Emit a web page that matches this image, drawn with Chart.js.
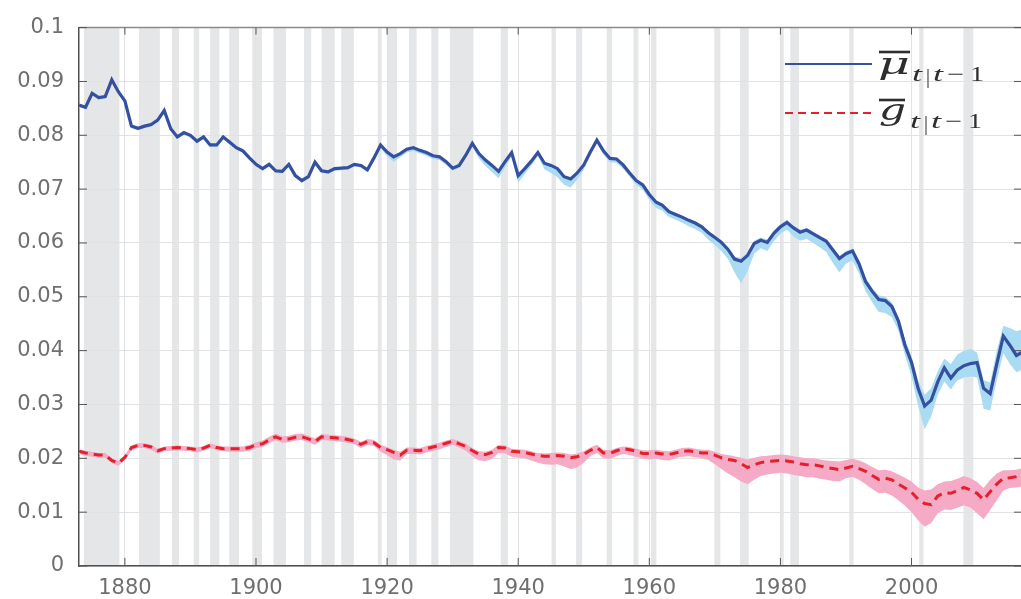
<!DOCTYPE html>
<html>
<head>
<meta charset="utf-8">
<script src="https://cdn.jsdelivr.net/npm/chart.js@4.4.1/dist/chart.umd.min.js"></script>
<style>
  html, body { margin: 0; padding: 0; background: #fff; }
  #wrap { width: 1021px; height: 599px; }
</style>
</head>
<body>
<div id="wrap"><canvas id="grafico" width="1021" height="599"></canvas></div>
<script>
// datos (anual)
var anios = [
  1873,1874,1875,1876,1877,1878,1879,
  1880,1881,1882,1883,1884,1885,1886,1887,1888,1889,
  1890,1891,1892,1893,1894,1895,1896,1897,1898,1899,
  1900,1901,1902,1903,1904,1905,1906,1907,1908,1909,
  1910,1911,1912,1913,1914,1915,1916,1917,1918,1919,
  1920,1921,1922,1923,1924,1925,1926,1927,1928,1929,
  1930,1931,1932,1933,1934,1935,1936,1937,1938,1939,
  1940,1941,1942,1943,1944,1945,1946,1947,1948,1949,
  1950,1951,1952,1953,1954,1955,1956,1957,1958,1959,
  1960,1961,1962,1963,1964,1965,1966,1967,1968,1969,
  1970,1971,1972,1973,1974,1975,1976,1977,1978,1979,
  1980,1981,1982,1983,1984,1985,1986,1987,1988,1989,
  1990,1991,1992,1993,1994,1995,1996,1997,1998,1999,
  2000,2001,2002,2003,2004,2005,2006,2007,2008,2009,
  2010,2011,2012,2013,2014,2015,2016,2017
];

var mu = [
  .0856,.0852,.0878,.0870,.0872,.0903,.0881,
  .0864,.0817,.0813,.0817,.0820,.0828,.0846,.0812,.0797,.0805,
  .0800,.0789,.0797,.0782,.0782,.0797,.0787,.0777,.0771,.0758,
  .0746,.0738,.0746,.0734,.0733,.0746,.0725,.0716,.0723,.0750,
  .0734,.0732,.0738,.0739,.0740,.0746,.0744,.0736,.0758,.0782,
  .0769,.0760,.0766,.0774,.0777,.0772,.0768,.0762,.0760,.0751,
  .0739,.0744,.0763,.0785,.0766,.0754,.0744,.0733,.0751,.0768,
  .0725,.0738,.0752,.0768,.0748,.0744,.0738,.0723,.0719,.0730,
  .0745,.0769,.0791,.0771,.0757,.0756,.0745,.0730,.0716,.0708,
  .0690,.0676,.0670,.0658,.0653,.0648,.0642,.0637,.0630,.0619,
  .0610,.0601,.0588,.0570,.0566,.0577,.0599,.0605,.0601,.0618,
  .0630,.0638,.0628,.0620,.0624,.0617,.0610,.0603,.0587,.0571,
  .0580,.0585,.0561,.0528,.0510,.0495,.0493,.0482,.0455,.0410,
  .0378,.0330,.0297,.0308,.0342,.0368,.0349,.0364,.0372,.0376,
  .0378,.0330,.0320,.0375,.0427,.0410,.0391,.0398
];

var muBajo = [
  .0852,.0848,.0874,.0866,.0868,.0899,.0877,
  .0860,.0813,.0809,.0813,.0816,.0824,.0842,.0808,.0793,.0801,
  .0796,.0785,.0793,.0778,.0778,.0793,.0783,.0773,.0767,.0754,
  .0742,.0734,.0742,.0730,.0729,.0742,.0721,.0712,.0719,.0746,
  .0730,.0728,.0734,.0735,.0736,.0742,.0740,.0731,.0753,.0776,
  .0761,.0751,.0759,.0768,.0771,.0766,.0762,.0756,.0754,.0745,
  .0734,.0739,.0758,.0779,.0757,.0743,.0732,.0720,.0741,.0760,
  .0712,.0728,.0744,.0761,.0737,.0730,.0722,.0708,.0703,.0718,
  .0736,.0762,.0785,.0764,.0750,.0749,.0738,.0723,.0708,.0699,
  .0680,.0665,.0660,.0648,.0643,.0638,.0631,.0626,.0619,.0606,
  .0596,.0585,.0570,.0545,.0525,.0548,.0580,.0590,.0585,.0603,
  .0617,.0625,.0612,.0604,.0608,.0600,.0592,.0583,.0563,.0545,
  .0562,.0568,.0543,.0510,.0490,.0472,.0470,.0462,.0437,.0392,
  .0352,.0298,.0254,.0278,.0318,.0342,.0328,.0345,.0350,.0352,
  .0350,.0292,.0289,.0345,.0395,.0375,.0360,.0365
];

var muAlto = [
  .0858,.0854,.0880,.0872,.0874,.0905,.0883,
  .0866,.0819,.0815,.0819,.0822,.0830,.0848,.0814,.0799,.0807,
  .0802,.0791,.0799,.0784,.0784,.0799,.0789,.0779,.0773,.0760,
  .0748,.0740,.0748,.0736,.0735,.0748,.0727,.0718,.0725,.0752,
  .0736,.0734,.0740,.0741,.0742,.0748,.0746,.0738,.0760,.0785,
  .0771,.0762,.0768,.0776,.0779,.0774,.0770,.0764,.0762,.0753,
  .0741,.0746,.0765,.0788,.0768,.0756,.0746,.0735,.0753,.0770,
  .0727,.0740,.0754,.0770,.0750,.0746,.0740,.0725,.0721,.0732,
  .0747,.0772,.0796,.0773,.0759,.0758,.0747,.0732,.0718,.0711,
  .0693,.0679,.0673,.0661,.0656,.0651,.0645,.0640,.0633,.0622,
  .0614,.0605,.0592,.0575,.0572,.0583,.0604,.0610,.0606,.0623,
  .0635,.0643,.0632,.0625,.0628,.0621,.0614,.0607,.0592,.0576,
  .0585,.0590,.0567,.0535,.0517,.0503,.0500,.0490,.0463,.0420,
  .0390,.0345,.0318,.0330,.0362,.0385,.0375,.0393,.0400,.0403,
  .0396,.0345,.0341,.0400,.0446,.0442,.0436,.0440
];

var g = [
  .0213,.0210,.0208,.0206,.0206,.0196,.0191,
  .0202,.0220,.0224,.0224,.0221,.0214,.0218,.0219,.0220,.0219,
  .0218,.0216,.0219,.0224,.0220,.0218,.0218,.0218,.0218,.0220,
  .0225,.0227,.0234,.0240,.0235,.0236,.0239,.0240,.0236,.0231,
  .0240,.0239,.0238,.0237,.0235,.0232,.0226,.0231,.0229,.0220,
  .0216,.0211,.0206,.0215,.0215,.0214,.0218,.0221,.0224,.0228,
  .0232,.0227,.0222,.0214,.0208,.0207,.0211,.0220,.0219,.0213,
  .0212,.0211,.0208,.0205,.0204,.0204,.0205,.0204,.0201,.0203,
  .0207,.0215,.0220,.0210,.0209,.0214,.0218,.0216,.0213,.0209,
  .0209,.0210,.0208,.0207,.0210,.0213,.0214,.0212,.0210,.0210,
  .0206,.0201,.0198,.0196,.0190,.0183,.0188,.0192,.0194,.0195,
  .0196,.0195,.0193,.0190,.0188,.0188,.0186,.0183,.0181,.0179,
  .0182,.0185,.0181,.0176,.0168,.0161,.0163,.0160,.0152,.0145,
  .0137,.0124,.0116,.0114,.0130,.0136,.0135,.0140,.0146,.0141,
  .0135,.0123,.0138,.0152,.0163,.0164,.0166,.0170
];

var gBajo = [
  .0208,.0205,.0203,.0201,.0201,.0191,.0186,
  .0197,.0215,.0219,.0219,.0216,.0209,.0213,.0214,.0215,.0214,
  .0213,.0211,.0214,.0219,.0215,.0213,.0212,.0212,.0212,.0214,
  .0219,.0221,.0228,.0234,.0229,.0230,.0233,.0234,.0230,.0225,
  .0234,.0233,.0232,.0231,.0229,.0226,.0219,.0225,.0223,.0212,
  .0206,.0198,.0196,.0208,.0208,.0207,.0211,.0214,.0217,.0221,
  .0225,.0220,.0214,.0204,.0196,.0195,.0199,.0210,.0209,.0203,
  .0201,.0200,.0196,.0192,.0189,.0188,.0189,.0185,.0180,.0183,
  .0192,.0204,.0210,.0200,.0199,.0204,.0208,.0206,.0203,.0199,
  .0198,.0199,.0197,.0196,.0200,.0203,.0204,.0202,.0200,.0197,
  .0189,.0180,.0172,.0165,.0157,.0152,.0160,.0167,.0170,.0172,
  .0173,.0172,.0169,.0167,.0165,.0165,.0162,.0160,.0158,.0157,
  .0163,.0166,.0160,.0152,.0143,.0135,.0136,.0131,.0122,.0112,
  .0100,.0085,.0073,.0080,.0098,.0105,.0104,.0108,.0113,.0108,
  .0098,.0087,.0104,.0122,.0140,.0145,.0146,.0148
];

var gAlto = [
  .0217,.0214,.0212,.0210,.0210,.0200,.0195,
  .0206,.0224,.0228,.0228,.0225,.0218,.0222,.0223,.0224,.0223,
  .0222,.0220,.0223,.0228,.0224,.0222,.0222,.0222,.0222,.0225,
  .0230,.0233,.0240,.0246,.0241,.0242,.0245,.0246,.0242,.0237,
  .0245,.0244,.0243,.0242,.0240,.0237,.0231,.0236,.0234,.0225,
  .0221,.0216,.0212,.0220,.0220,.0219,.0223,.0226,.0229,.0233,
  .0236,.0232,.0227,.0219,.0213,.0212,.0216,.0225,.0224,.0218,
  .0217,.0216,.0213,.0210,.0209,.0210,.0211,.0210,.0207,.0209,
  .0213,.0220,.0225,.0216,.0215,.0219,.0222,.0221,.0218,.0215,
  .0215,.0216,.0214,.0213,.0216,.0219,.0220,.0218,.0216,.0216,
  .0212,.0208,.0206,.0204,.0201,.0198,.0201,.0204,.0205,.0206,
  .0207,.0206,.0204,.0202,.0200,.0200,.0198,.0196,.0195,.0194,
  .0197,.0199,.0196,.0191,.0184,.0178,.0179,.0176,.0170,.0164,
  .0157,.0146,.0140,.0142,.0152,.0157,.0158,.0162,.0167,.0163,
  .0156,.0145,.0160,.0172,.0178,.0178,.0179,.0182
];

// recesiones (franjas grises)
var recInicio = [1873.75,1882.17,1887.17,1890.5,1893.0,1895.92,1899.42,1902.67,1907.33,1910.0,
  1913.0,1918.58,1920.0,1923.33,1926.75,1929.58,1937.33,1945.08,1948.83,1953.5,
  1957.58,1960.25,1969.92,1973.83,1980.0,1981.5,1990.5,2001.17,2007.92];
var recFin = [1879.17,1885.33,1888.25,1891.33,1894.42,1897.42,1900.92,1904.58,1908.42,1912.0,
  1914.92,1919.17,1921.5,1924.5,1927.83,1933.17,1938.42,1945.75,1949.75,1954.33,
  1958.33,1961.08,1970.83,1975.17,1980.5,1982.83,1991.17,2001.83,2009.42];

var ticksX = [1880, 1900, 1920, 1940, 1960, 1980, 2000];
var ticksY = [0, 0.01, 0.02, 0.03, 0.04, 0.05, 0.06, 0.07, 0.08, 0.09, 0.1];
var etiquetasY = ['0','0.01','0.02','0.03','0.04','0.05','0.06','0.07','0.08','0.09','0.1'];

function puntos(valores){
    return anios.map(function(a, i){ return {x: a, y: valores[i]}; });
}

var colorAzul = '#34509f';
var colorRojo = '#e4202a';
var colorTexto = '#2e2e2e';

// franjas de recesion, antes de la grilla
var pluginRecesiones = {
    id: 'recesiones',
    beforeDraw: function(chart){
        var ctx = chart.ctx, area = chart.chartArea, x = chart.scales.x;
        ctx.save();
        ctx.fillStyle = '#e5e6e8';
        for (var i = 0; i < recInicio.length; i++){
            var x0 = Math.max(x.getPixelForValue(recInicio[i]), area.left);
            var x1 = Math.min(x.getPixelForValue(recFin[i]), area.right);
            if (x1 > x0) ctx.fillRect(x0, area.top, x1 - x0, area.bottom - area.top);
        }
        ctx.restore();
    }
};

function glifo(ctx, txt, x, base, font, ancho){
    ctx.save();
    ctx.font = font;
    var w = ctx.measureText(txt).width;
    ctx.translate(x, base);
    ctx.scale(ancho / w, 1);
    ctx.fillText(txt, 0, 0);
    ctx.restore();
}

function subindice(ctx, x0, base){
    var it = 'italic 21px "Liberation Serif"';
    var rm = '21px "Liberation Serif"';
    glifo(ctx, 't', x0, base, it, 10);
    glifo(ctx, '|', x0 + 14, base + 2, rm, 4);
    glifo(ctx, 't', x0 + 21, base, it, 10);
    glifo(ctx, '\u2212', x0 + 35, base, rm, 17);
    glifo(ctx, '1', x0 + 58, base, rm, 14);
}

// marco, marcas de eje y leyenda
var pluginMarco = {
    id: 'marco',
    afterDraw: function(chart){
        var ctx = chart.ctx, a = chart.chartArea;
        var sx = chart.scales.x, sy = chart.scales.y;
        ctx.save();
        ctx.strokeStyle = '#8a8a8a';
        ctx.lineWidth = 1.5;
        ctx.beginPath();
        ctx.moveTo(a.left, a.top); ctx.lineTo(a.right, a.top);
        ctx.stroke();

        ctx.strokeStyle = '#555';
        ctx.lineWidth = 1;
        ctx.beginPath();
        ticksX.forEach(function(v){
            var px = sx.getPixelForValue(v);
            ctx.moveTo(px, a.bottom); ctx.lineTo(px, a.bottom - 8);
            ctx.moveTo(px, a.top); ctx.lineTo(px, a.top + 7);
        });
        ticksY.forEach(function(v){
            var py = sy.getPixelForValue(v);
            ctx.moveTo(a.left, py); ctx.lineTo(a.left + 8, py);
            ctx.moveTo(a.right, py); ctx.lineTo(a.right - 7, py);
        });
        ctx.stroke();

        // leyenda
        ctx.lineWidth = 2.2;
        ctx.strokeStyle = colorAzul;
        ctx.beginPath(); ctx.moveTo(785, 64); ctx.lineTo(872, 64); ctx.stroke();
        ctx.strokeStyle = colorRojo;
        ctx.setLineDash([8, 5]);
        ctx.beginPath(); ctx.moveTo(785, 113); ctx.lineTo(872, 113); ctx.stroke();
        ctx.setLineDash([]);

        ctx.fillStyle = colorTexto;
        ctx.strokeStyle = colorTexto;
        ctx.lineWidth = 2.6;
        glifo(ctx, '\u03bc', 878, 74, 'italic 30px "DejaVu Serif"', 32);
        ctx.beginPath(); ctx.moveTo(879, 52); ctx.lineTo(910, 52); ctx.stroke();
        subindice(ctx, 912, 81);

        glifo(ctx, 'g', 879, 120, 'italic 30px "DejaVu Serif"', 27);
        ctx.beginPath(); ctx.moveTo(879, 100); ctx.lineTo(905, 100); ctx.stroke();
        subindice(ctx, 910, 128);
        ctx.restore();
    }
};

var fuenteTicks = { family: '"DejaVu Sans", sans-serif', size: 21 };

var ctx = document.getElementById('grafico');

new Chart(ctx, {
    type: 'line',
    data: {
        datasets: [
            { label: 'muBajo', data: puntos(muBajo), order: 2, borderColor: 'rgba(0,0,0,0)', borderWidth: 1, pointRadius: 0, fill: false },
            { label: 'muAlto', data: puntos(muAlto), order: 2, borderColor: 'rgba(0,0,0,0)', borderWidth: 1, pointRadius: 0, fill: '-1', backgroundColor: '#a9dbf2' },
            { label: 'gBajo', data: puntos(gBajo), order: 2, borderColor: 'rgba(0,0,0,0)', borderWidth: 1, pointRadius: 0, fill: false },
            { label: 'gAlto', data: puntos(gAlto), order: 2, borderColor: 'rgba(0,0,0,0)', borderWidth: 1, pointRadius: 0, fill: '-1', backgroundColor: '#f5abc5' },
            { label: 'mu', data: puntos(mu), order: 0, borderColor: colorAzul, borderWidth: 3.2, pointRadius: 0, fill: false, tension: 0 },
            { label: 'g', data: puntos(g), order: 0, borderColor: colorRojo, borderWidth: 3, borderDash: [9, 6], pointRadius: 0, fill: false, tension: 0 }
        ]
    },
    options: {
        responsive: false,
        animation: false,
        layout: { padding: { top: 21, right: 0, left: 0, bottom: 0 } },
        plugins: {
            legend: { display: false },
            tooltip: { enabled: false }
        },
        scales: {
            x: {
                type: 'linear',
                min: 1873,
                max: 2016.7,
                afterBuildTicks: function(s){ s.ticks = ticksX.map(function(v){ return {value: v}; }); },
                afterFit: function(s){ s.height = 33; },
                ticks: {
                    font: fuenteTicks, color: '#6f6f6f', padding: 10,
                    maxRotation: 0, autoSkip: false,
                    callback: function(v){ return String(v); }
                },
                grid: { color: '#e2e2e2', lineWidth: 1, drawTicks: false },
                border: { color: '#505050', width: 1.5 }
            },
            y: {
                min: 0,
                max: 0.1,
                afterBuildTicks: function(s){ s.ticks = ticksY.map(function(v){ return {value: v}; }); },
                afterFit: function(s){ s.width = 79; },
                ticks: {
                    font: fuenteTicks, color: '#6f6f6f', padding: 15,
                    callback: function(v, i){ return etiquetasY[i]; }
                },
                grid: { color: '#e2e2e2', lineWidth: 1, drawTicks: false },
                border: { color: '#505050', width: 1.5 }
            }
        }
    },
    plugins: [pluginRecesiones, pluginMarco]
});
</script>
</body>
</html>
